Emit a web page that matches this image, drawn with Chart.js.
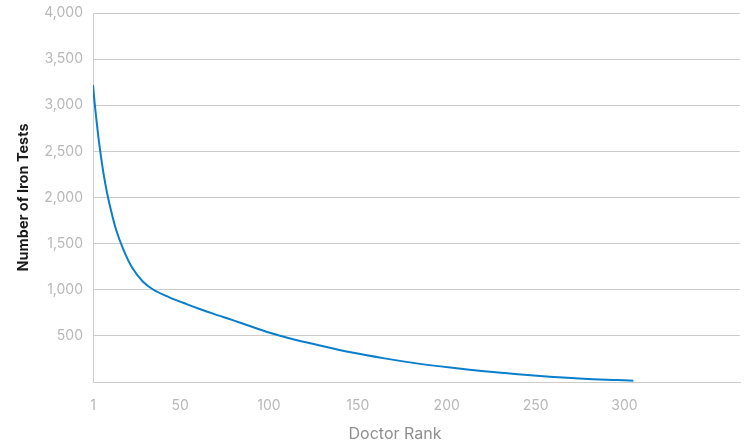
<!DOCTYPE html>
<html lang="en">
<head>
    <meta charset="UTF-8">
    <title>Iron tests by doctor rank</title>
    <script src="https://cdn.jsdelivr.net/npm/chart.js"></script>
    <style>
        html, body { margin: 0; padding: 0; background: #fff; }
        #wrap { width: 750px; height: 445px; }
    </style>
</head>
<body>
    <div id="wrap"><canvas id="chart" width="750" height="445"></canvas></div>
<script>
    // doctor rank and number of iron tests
    const ranks = [1, 2, 3, 4, 5, 7, 9, 11, 14, 18, 23, 29, 35, 44, 54, 61, 69, 80, 90, 100, 113, 127, 146, 165, 183, 202, 221, 240, 258, 277, 296, 305]
    const ironTests = [3220, 3010, 2830, 2660, 2510, 2250, 2040, 1870, 1650, 1440, 1240, 1090, 1000, 918, 842, 792, 738, 668, 601, 537, 467, 403, 322, 256, 202, 156, 117, 85, 58, 36, 21, 14]
    const xTickValues = [1, 50, 100, 150, 200, 250, 300]

    const tickFont = { family: 'Inter', size: 14 }
    const tickColor = '#b8b8b8'
    const gridColor = '#cccccc'

    // x title sits left of the plot centre in the original, so draw it ourselves
    const xTitle = {
        id: 'xTitle',
        afterDraw(chart) {
            const ctx = chart.ctx
            ctx.save()
            ctx.font = '16px Inter'
            ctx.fillStyle = '#8f8f8f'
            ctx.textAlign = 'center'
            ctx.textBaseline = 'middle'
            ctx.fillText('Doctor Rank', 395, 434)
            ctx.restore()
        }
    }

    new Chart(document.getElementById('chart'), {
        type: 'line',
        data: {
            datasets: [{
                label: 'Number of Iron Tests',
                data: ranks.map((r, i) => ({ x: r, y: ironTests[i] })),
                borderColor: '#0a7ecb',
                borderWidth: 2,
                pointRadius: 0,
                fill: false,
                cubicInterpolationMode: 'monotone'
            }]
        },
        options: {
            responsive: false,
            animation: false,
            layout: { padding: { top: 13, right: 10, left: 0, bottom: 0 } },
            plugins: {
                legend: { display: false },
                tooltip: { enabled: false }
            },
            scales: {
                x: {
                    type: 'linear',
                    min: 1,
                    max: 365,
                    grid: { display: false },
                    border: { display: true, color: gridColor },
                    afterBuildTicks: scale => {
                        scale.ticks = xTickValues.map(v => ({ value: v }))
                    },
                    afterFit: scale => {
                        scale.height = 63
                        scale.paddingLeft = 0
                        scale.paddingRight = 0
                    },
                    ticks: {
                        autoSkip: false,
                        maxRotation: 0,
                        padding: 7,
                        color: tickColor,
                        font: tickFont,
                        callback: v => String(v)
                    }
                },
                y: {
                    min: 0,
                    max: 4000,
                    afterFit: scale => {
                        scale.width = 93
                        scale.paddingTop = 0
                        scale.paddingBottom = 0
                    },
                    grid: { color: gridColor, drawTicks: false },
                    border: { color: gridColor },
                    ticks: {
                        stepSize: 500,
                        padding: 10,
                        color: tickColor,
                        font: tickFont,
                        callback: v => v === 0 ? '' : v.toLocaleString('en-US')
                    },
                    title: {
                        display: true,
                        text: 'Number of Iron Tests',
                        color: '#1a1a1a',
                        font: { family: 'Inter', size: 14.5, weight: 'bold' },
                        padding: { top: 15, bottom: 0 }
                    }
                }
            }
        },
        plugins: [xTitle]
    })
</script>
</body>
</html>
